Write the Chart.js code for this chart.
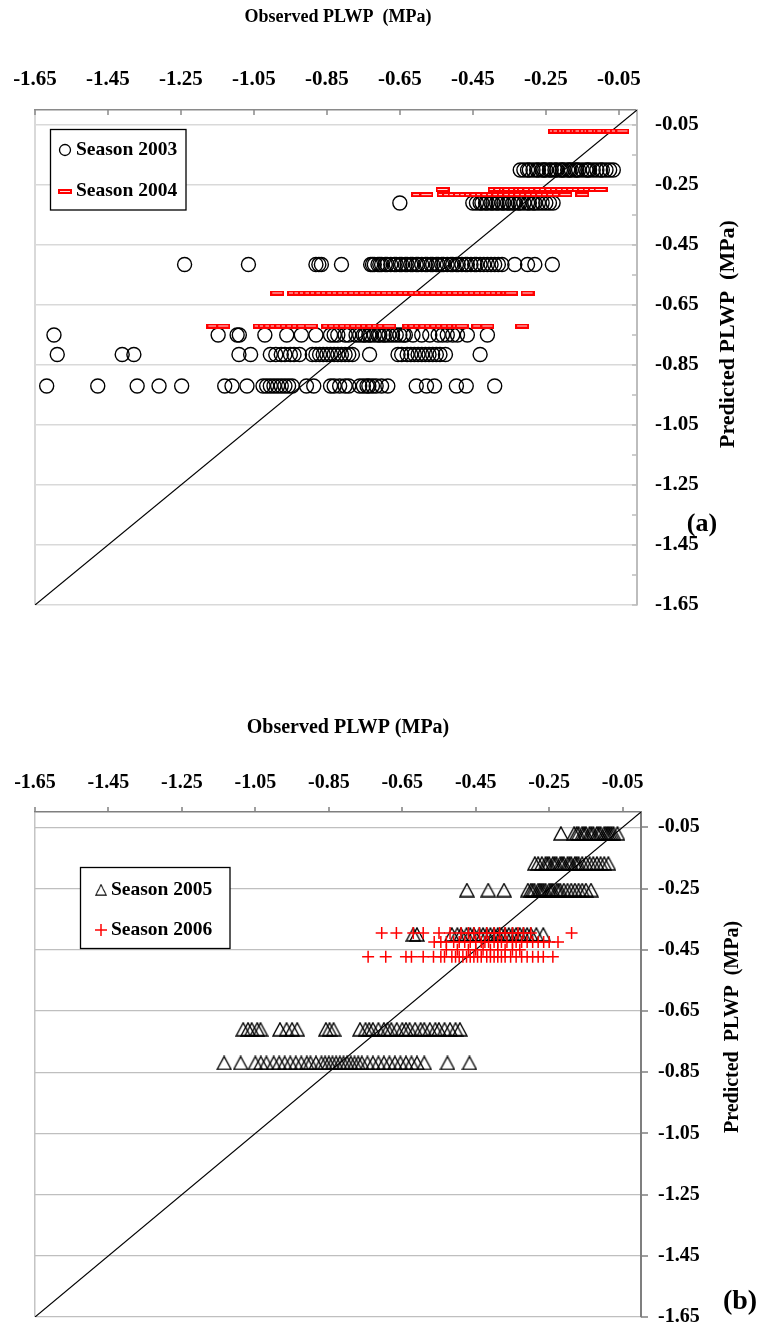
<!DOCTYPE html>
<html>
<head>
<meta charset="utf-8">
<meta name="viewport" content="width=device-width">
<script src="https://cdn.jsdelivr.net/npm/chart.js@4.4.1/dist/chart.umd.min.js"></script>
<style>
    *{padding:0; margin:0;}
    body{width:762px; height:1326px; overflow:hidden; background:#fff;}
    canvas{position:absolute; left:0;}
    #chartA{top:0;}
    #chartB{top:660px;}
</style>
</head>
<body>
<canvas id="chartA" width="762" height="650"></canvas>
<canvas id="chartB" width="762" height="700"></canvas>
<script>
var FONT = '"Liberation Serif", "Times New Roman", serif';

// axes
var axisMin = -1.65, axisMax = 0;
var xTickVals = [-1.65, -1.45, -1.25, -1.05, -0.85, -0.65, -0.45, -0.25, -0.05];
var yTickVals = [-0.05, -0.25, -0.45, -0.65, -0.85, -1.05, -1.25, -1.45, -1.65];
var yMinorVals = [-0.15, -0.35, -0.55, -0.75, -0.95, -1.15, -1.35, -1.55];
var oneToOne = [-1.65, 0];

// season 2003 : predicted level -> observed values
var pred2003 = [-0.20, -0.31, -0.515, -0.75, -0.815, -0.92];
var obs2003 = [
    [-0.32,-0.31,-0.30,-0.295,-0.285,-0.275,-0.27,-0.26,-0.255,-0.25,-0.24,-0.235,-0.225,-0.22,-0.21,-0.205,-0.2,-0.19,-0.185,-0.18,-0.17,-0.165,-0.16,-0.15,-0.14,-0.135,-0.13,-0.12,-0.11,-0.1,-0.095,-0.085,-0.075,-0.065],
    [-0.65,-0.45,-0.44,-0.43,-0.425,-0.415,-0.41,-0.40,-0.395,-0.385,-0.38,-0.37,-0.365,-0.355,-0.35,-0.34,-0.335,-0.325,-0.32,-0.31,-0.30,-0.295,-0.285,-0.28,-0.27,-0.26,-0.25,-0.24,-0.23],
    [-1.24,-1.065,-0.88,-0.872,-0.865,-0.81,-0.73,-0.725,-0.72,-0.71,-0.705,-0.70,-0.69,-0.685,-0.675,-0.665,-0.66,-0.65,-0.645,-0.635,-0.63,-0.62,-0.615,-0.605,-0.60,-0.59,-0.58,-0.575,-0.565,-0.56,-0.55,-0.545,-0.535,-0.53,-0.52,-0.51,-0.505,-0.495,-0.49,-0.48,-0.47,-0.465,-0.455,-0.445,-0.44,-0.43,-0.42,-0.41,-0.40,-0.39,-0.38,-0.37,-0.335,-0.30,-0.28,-0.232],
    [-1.598,-1.148,-1.096,-1.09,-1.02,-0.96,-0.92,-0.88,-0.84,-0.83,-0.82,-0.80,-0.79,-0.77,-0.76,-0.75,-0.745,-0.735,-0.73,-0.72,-0.71,-0.705,-0.695,-0.69,-0.68,-0.67,-0.66,-0.65,-0.64,-0.635,-0.614,-0.59,-0.568,-0.545,-0.533,-0.52,-0.505,-0.492,-0.465,-0.41],
    [-1.589,-1.411,-1.379,-1.091,-1.059,-1.005,-0.99,-0.975,-0.965,-0.95,-0.94,-0.925,-0.89,-0.88,-0.87,-0.86,-0.85,-0.84,-0.83,-0.82,-0.81,-0.80,-0.79,-0.78,-0.733,-0.655,-0.645,-0.63,-0.62,-0.61,-0.60,-0.59,-0.58,-0.57,-0.56,-0.55,-0.54,-0.525,-0.43],
    [-1.618,-1.478,-1.37,-1.31,-1.248,-1.13,-1.11,-1.069,-1.025,-1.015,-1.005,-0.995,-0.985,-0.975,-0.965,-0.955,-0.945,-0.906,-0.886,-0.84,-0.83,-0.815,-0.80,-0.79,-0.76,-0.75,-0.74,-0.735,-0.725,-0.715,-0.70,-0.683,-0.605,-0.577,-0.555,-0.495,-0.468,-0.39]
];

// season 2004
var pred2004 = [-0.07, -0.265, -0.282, -0.61, -0.72];
var obs2004 = [
    [-0.225,-0.215,-0.20,-0.19,-0.18,-0.165,-0.155,-0.14,-0.13,-0.12,-0.105,-0.095,-0.08,-0.07,-0.055,-0.04],
    [-0.533,-0.39,-0.375,-0.36,-0.35,-0.335,-0.32,-0.31,-0.295,-0.28,-0.265,-0.25,-0.235,-0.22,-0.205,-0.19,-0.175,-0.16,-0.145,-0.13,-0.115,-0.10],
    [-0.60,-0.577,-0.53,-0.515,-0.50,-0.485,-0.47,-0.455,-0.44,-0.425,-0.41,-0.395,-0.38,-0.365,-0.35,-0.335,-0.32,-0.305,-0.29,-0.275,-0.26,-0.245,-0.23,-0.215,-0.196,-0.15],
    [-0.986,-0.94,-0.925,-0.91,-0.895,-0.88,-0.865,-0.85,-0.835,-0.82,-0.805,-0.79,-0.775,-0.76,-0.745,-0.73,-0.715,-0.70,-0.685,-0.67,-0.655,-0.64,-0.625,-0.61,-0.595,-0.58,-0.565,-0.55,-0.535,-0.52,-0.505,-0.49,-0.475,-0.46,-0.445,-0.43,-0.415,-0.40,-0.385,-0.37,-0.355,-0.345,-0.30],
    [-1.161,-1.134,-1.034,-1.02,-1.005,-0.99,-0.975,-0.96,-0.945,-0.93,-0.915,-0.894,-0.846,-0.83,-0.815,-0.80,-0.785,-0.77,-0.755,-0.74,-0.725,-0.71,-0.695,-0.679,-0.624,-0.61,-0.595,-0.58,-0.565,-0.55,-0.535,-0.52,-0.505,-0.49,-0.48,-0.435,-0.41,-0.315]
];

// season 2005
var pred2005 = [-0.07, -0.168, -0.255, -0.40, -0.71, -0.82];
var obs2005 = [
    [-0.218,-0.182,-0.175,-0.17,-0.16,-0.155,-0.15,-0.14,-0.135,-0.13,-0.12,-0.115,-0.11,-0.10,-0.095,-0.09,-0.085,-0.08,-0.075,-0.064],
    [-0.289,-0.28,-0.27,-0.26,-0.255,-0.25,-0.24,-0.235,-0.23,-0.22,-0.215,-0.21,-0.20,-0.195,-0.19,-0.18,-0.175,-0.17,-0.16,-0.15,-0.14,-0.13,-0.12,-0.11,-0.10,-0.089],
    [-0.474,-0.416,-0.373,-0.308,-0.30,-0.295,-0.29,-0.28,-0.275,-0.27,-0.265,-0.26,-0.25,-0.245,-0.24,-0.23,-0.225,-0.22,-0.21,-0.20,-0.19,-0.18,-0.17,-0.16,-0.15,-0.136],
    [-0.62,-0.61,-0.515,-0.50,-0.49,-0.475,-0.465,-0.455,-0.44,-0.43,-0.42,-0.41,-0.40,-0.39,-0.38,-0.37,-0.36,-0.35,-0.34,-0.33,-0.32,-0.31,-0.30,-0.285,-0.266],
    [-1.083,-1.07,-1.06,-1.045,-1.036,-0.983,-0.965,-0.95,-0.936,-0.858,-0.848,-0.837,-0.765,-0.75,-0.74,-0.73,-0.715,-0.70,-0.69,-0.68,-0.665,-0.65,-0.64,-0.63,-0.615,-0.60,-0.59,-0.575,-0.56,-0.55,-0.535,-0.52,-0.505,-0.493],
    [-1.135,-1.09,-1.05,-1.035,-1.02,-1.0,-0.985,-0.97,-0.955,-0.94,-0.925,-0.91,-0.9,-0.885,-0.87,-0.86,-0.85,-0.84,-0.83,-0.82,-0.81,-0.80,-0.79,-0.78,-0.77,-0.76,-0.745,-0.73,-0.715,-0.70,-0.685,-0.67,-0.655,-0.64,-0.625,-0.61,-0.59,-0.527,-0.467]
];

// season 2006
var pred2006 = [-0.395, -0.425, -0.45, -0.473];
var obs2006 = [
    [-0.706,-0.666,-0.62,-0.593,-0.55,-0.52,-0.49,-0.47,-0.455,-0.44,-0.42,-0.40,-0.385,-0.37,-0.35,-0.335,-0.32,-0.30,-0.189],
    [-0.563,-0.545,-0.53,-0.51,-0.495,-0.48,-0.465,-0.45,-0.435,-0.425,-0.415,-0.40,-0.39,-0.38,-0.365,-0.35,-0.34,-0.325,-0.31,-0.295,-0.28,-0.265,-0.25,-0.226],
    [-0.53,-0.50,-0.47,-0.45,-0.43,-0.41,-0.39,-0.37,-0.35,-0.33],
    [-0.743,-0.695,-0.64,-0.625,-0.593,-0.565,-0.545,-0.535,-0.515,-0.505,-0.495,-0.485,-0.475,-0.465,-0.455,-0.445,-0.435,-0.42,-0.41,-0.40,-0.39,-0.38,-0.37,-0.355,-0.34,-0.325,-0.31,-0.295,-0.28,-0.266,-0.24]
];

function toPoints(levels, rows) {
    var pts = [];
    levels.forEach(function(y, i) {
        rows[i].forEach(function(x) { pts.push({x: x, y: y}); });
    });
    return pts;
}
function diagonal() {
    return oneToOne.map(function(v) { return {x: v, y: v}; });
}

// excel-like marker shapes
function dashMarker() {
    var c = document.createElement('canvas');
    c.width = 14; c.height = 5;
    var g = c.getContext('2d');
    g.fillStyle = '#ff0000';
    g.fillRect(0, 0, 14, 5);
    g.fillStyle = '#ffe0e0';
    g.fillRect(2, 2, 10, 1);
    return c;
}
function triangleMarker() {
    var c = document.createElement('canvas');
    c.width = 16; c.height = 15;
    var g = c.getContext('2d');
    g.strokeStyle = '#000';
    g.lineWidth = 1.4;
    g.beginPath();
    g.moveTo(8, 1); g.lineTo(15, 14); g.lineTo(1, 14); g.closePath();
    g.stroke();
    return c;
}
var dash = dashMarker();
var tri = triangleMarker();

function line(ctx, x1, y1, x2, y2) {
    ctx.beginPath(); ctx.moveTo(x1, y1); ctx.lineTo(x2, y2); ctx.stroke();
}
function label(ctx, text, x, y, size, align, rot) {
    ctx.save();
    ctx.translate(x, y);
    if (rot) ctx.rotate(rot);
    ctx.font = 'bold ' + size + 'px ' + FONT;
    ctx.fillStyle = '#000';
    ctx.textAlign = align;
    ctx.textBaseline = 'middle';
    ctx.fillText(text, 0, 0);
    ctx.restore();
}
function legendBox(ctx, x, y, w, h) {
    ctx.fillStyle = '#fff';
    ctx.fillRect(x, y, w, h);
    ctx.strokeStyle = '#000';
    ctx.lineWidth = 1.3;
    ctx.strokeRect(x, y, w, h);
}

function makeOptions(o) {
    return {
        responsive: false,
        animation: false,
        events: [],
        layout: {padding: {left: 35, right: 0, top: 0, bottom: o.padBottom}},
        plugins: {legend: {display: false}, tooltip: {enabled: false}},
        scales: {
            x: {
                type: 'linear', position: 'top', min: axisMin, max: axisMax,
                afterBuildTicks: function(s) { s.ticks = xTickVals.map(function(v) { return {value: v}; }); },
                afterFit: function(s) { s.height = o.xHeight; s.paddingLeft = 0; s.paddingRight = 0; },
                grid: {drawTicks: false, lineWidth: o.leftW,
                       color: function(c) { return c.index === 0 ? o.leftColor : 'rgba(0,0,0,0)'; }},
                border: {color: o.topColor, width: o.topW},
                ticks: {padding: o.xPad, color: '#000', maxRotation: 0,
                        font: {family: FONT, size: o.tickSize, weight: 'bold'},
                        callback: function(v) { return Number(v).toFixed(2); }}
            },
            y: {
                type: 'linear', position: 'right', min: axisMin, max: axisMax,
                afterBuildTicks: function(s) { s.ticks = yTickVals.map(function(v) { return {value: v}; }); },
                afterFit: function(s) { s.width = o.yWidth; s.paddingTop = 0; s.paddingBottom = 0; },
                grid: {drawTicks: false, color: o.gridColor, lineWidth: o.gridW},
                border: {color: o.rightColor, width: o.rightW},
                ticks: {padding: o.yPad, color: '#000',
                        font: {family: FONT, size: o.tickSize, weight: 'bold'},
                        callback: function(v) { return Number(v).toFixed(2); }}
            }
        }
    };
}

var decorA = {
    id: 'decorA',
    afterDraw: function(chart) {
        var ctx = chart.ctx, a = chart.chartArea, xs = chart.scales.x, ys = chart.scales.y;
        ctx.save();
        // inward tick marks
        ctx.strokeStyle = '#8a8a8a'; ctx.lineWidth = 1.5;
        xTickVals.forEach(function(v) {
            var p = Math.round(xs.getPixelForValue(v));
            line(ctx, p, a.top, p, a.top + 5);
        });
        ctx.strokeStyle = '#bdbdbd'; ctx.lineWidth = 1.5;
        yTickVals.concat(yMinorVals).forEach(function(v) {
            var p = Math.round(ys.getPixelForValue(v));
            line(ctx, a.right - 5, p, a.right, p);
        });
        // legend
        legendBox(ctx, 50.5, 129.5, 135.5, 80.5);
        ctx.strokeStyle = '#000'; ctx.lineWidth = 1.3;
        ctx.beginPath(); ctx.arc(65, 150, 5.5, 0, Math.PI * 2); ctx.stroke();
        label(ctx, 'Season 2003', 76, 150, 19.5, 'left');
        ctx.drawImage(dash, 58, 189);
        label(ctx, 'Season 2004', 76, 191, 19.5, 'left');
        // titles
        label(ctx, 'Observed PLWP  (MPa)', 338, 17, 18, 'center');
        label(ctx, 'Predicted PLWP  (MPa)', 728, 334, 22, 'center', -Math.PI / 2);
        label(ctx, '(a)', 702, 524, 26, 'center');
        ctx.restore();
    }
};

var decorB = {
    id: 'decorB',
    afterDraw: function(chart) {
        var ctx = chart.ctx, a = chart.chartArea, xs = chart.scales.x, ys = chart.scales.y;
        ctx.save();
        // outward tick marks
        ctx.strokeStyle = '#7f7f7f'; ctx.lineWidth = 1.5;
        xTickVals.forEach(function(v) {
            var p = Math.round(xs.getPixelForValue(v));
            line(ctx, p, a.top - 5, p, a.top);
        });
        yTickVals.forEach(function(v) {
            var p = Math.round(ys.getPixelForValue(v));
            line(ctx, a.right, p, a.right + 7, p);
        });
        // legend
        legendBox(ctx, 80.5, 207.5, 149.5, 81);
        ctx.drawImage(tri, 95, 224, 12, 12);
        label(ctx, 'Season 2005', 111, 230, 19.5, 'left');
        ctx.strokeStyle = '#ff0000'; ctx.lineWidth = 1.5;
        line(ctx, 95, 270, 107, 270);
        line(ctx, 101, 264, 101, 276);
        label(ctx, 'Season 2006', 111, 270, 19.5, 'left');
        // titles
        label(ctx, 'Observed PLWP (MPa)', 348, 68, 20, 'center');
        label(ctx, 'Predicted  PLWP  (MPa)', 733, 367, 20, 'center', -Math.PI / 2);
        label(ctx, '(b)', 740, 642, 28, 'center');
        ctx.restore();
    }
};

var chartA = new Chart(document.getElementById('chartA').getContext('2d'), {
    type: 'scatter',
    data: {
        datasets: [
            {label: 'Season 2004', data: toPoints(pred2004, obs2004), pointStyle: dash,
             pointRadius: 4, order: 1},
            {label: 'Season 2003', data: toPoints(pred2003, obs2003), pointStyle: 'circle',
             pointRadius: 7, borderColor: '#000', borderWidth: 1.4, backgroundColor: 'rgba(0,0,0,0)', order: 2},
            {label: '1:1', data: diagonal(), showLine: true, pointRadius: 0,
             borderColor: '#000', borderWidth: 1.2, order: 3}
        ]
    },
    options: makeOptions({padBottom: 45, xHeight: 110, yWidth: 125, xPad: 18, yPad: 18, tickSize: 21,
        leftColor: '#d9d9d9', leftW: 2, topColor: '#8a8a8a', topW: 1.5,
        gridColor: '#d9d9d9', gridW: 1.5, rightColor: '#bdbdbd', rightW: 2}),
    plugins: [decorA]
});

var chartB = new Chart(document.getElementById('chartB').getContext('2d'), {
    type: 'scatter',
    data: {
        datasets: [
            {label: 'Season 2006', data: toPoints(pred2006, obs2006), pointStyle: 'cross',
             pointRadius: 6, borderColor: '#ff0000', borderWidth: 1.5, order: 1},
            {label: 'Season 2005', data: toPoints(pred2005, obs2005), pointStyle: tri,
             pointRadius: 7, order: 2},
            {label: '1:1', data: diagonal(), showLine: true, pointRadius: 0,
             borderColor: '#000', borderWidth: 1.2, order: 3}
        ]
    },
    options: makeOptions({padBottom: 43, xHeight: 152, yWidth: 121, xPad: 17, yPad: 17, tickSize: 20,
        leftColor: '#c4c4c4', leftW: 1.5, topColor: '#7f7f7f', topW: 1.5,
        gridColor: '#bfbfbf', gridW: 1.2, rightColor: '#7f7f7f', rightW: 2}),
    plugins: [decorB]
});
</script>
</body>
</html>
